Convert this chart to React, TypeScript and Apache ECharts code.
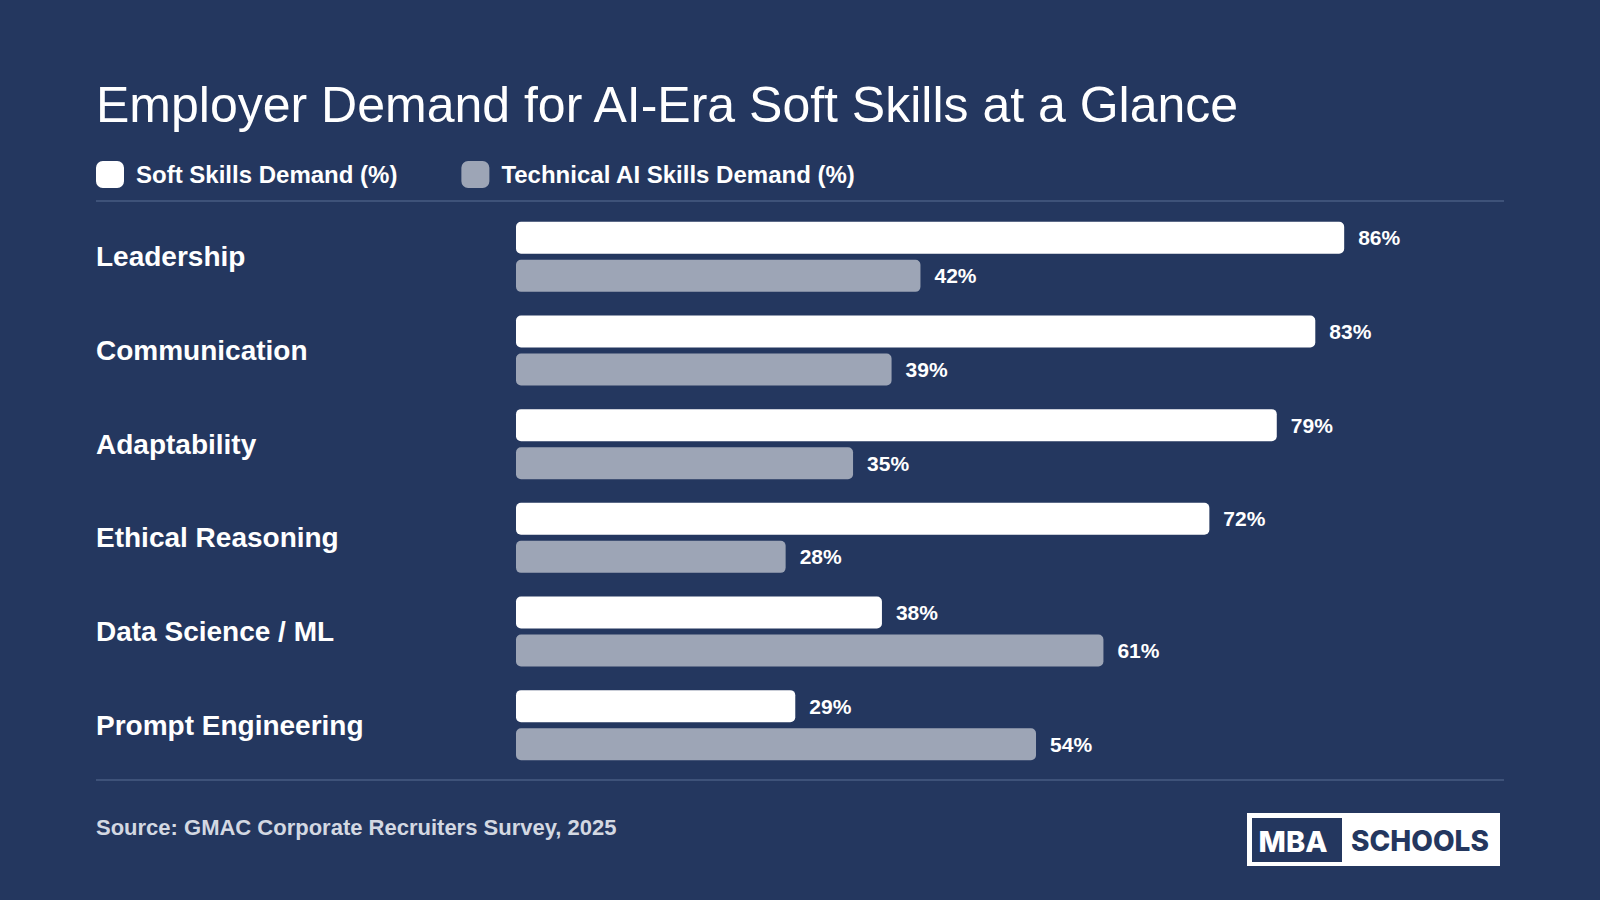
import React, { useEffect, useRef } from "react";
import * as echarts from "echarts";

const categories = ["Leadership", "Communication", "Adaptability", "Ethical Reasoning", "Data Science / ML", "Prompt Engineering"];
const softSkills = [86, 83, 79, 72, 38, 29];
const techSkills = [42, 39, 35, 28, 61, 54];
const seriesNames = ["Soft Skills Demand (%)", "Technical AI Skills Demand (%)"];
const titleText = "Employer Demand for AI-Era Soft Skills at a Glance";
const sourceText = "Source: GMAC Corporate Recruiters Survey, 2025";

const BG = "#24375f";
const GRAY = "#9da5b6";
const FONT = "'Liberation Sans', Arial, Helvetica, sans-serif";

export default function App() {
  const ref = useRef<HTMLDivElement>(null);
  useEffect(() => {
    if (!ref.current) return;
    const chart = echarts.init(ref.current, null, { renderer: "svg" });
    const label = {
      show: true,
      position: "right",
      distance: 14,
      color: "#ffffff",
      fontFamily: FONT,
      fontWeight: "bold",
      fontSize: 21,
      formatter: "{c}%",
    };
    chart.setOption({
      animation: false,
      backgroundColor: BG,
      textStyle: { fontFamily: FONT },
      legend: {
        left: 96,
        top: 161,
        padding: 0,
        itemWidth: 28,
        itemHeight: 27,
        itemGap: 64,
        icon: "roundRect",
        textStyle: { color: "#ffffff", fontSize: 24, fontWeight: "bold", fontFamily: FONT, padding: [0, 0, 0, 7] },
        data: seriesNames,
      },
      grid: { left: 516, right: 121, top: 210, height: 562 },
      xAxis: {
        type: "value",
        min: 0,
        max: 100,
        show: false,
      },
      yAxis: {
        type: "category",
        data: categories,
        inverse: true,
        axisLine: { show: false },
        axisTick: { show: false },
        splitLine: { show: false },
        axisLabel: {
          align: "left",
          margin: 420,
          color: "#ffffff",
          fontSize: 28,
          fontWeight: "bold",
          fontFamily: FONT,
        },
      },
      series: [
        {
          name: seriesNames[0],
          type: "bar",
          data: softSkills,
          barWidth: 32,
          barGap: "19%",
          itemStyle: { color: "#ffffff", borderRadius: 5 },
          label,
        },
        {
          name: seriesNames[1],
          type: "bar",
          data: techSkills,
          barWidth: 32,
          itemStyle: { color: GRAY, borderRadius: 5 },
          label,
        },
      ],
      graphic: [
        {
          type: "text",
          left: 96,
          top: 80,
          style: { text: titleText, fill: "#ffffff", fontSize: 50, fontFamily: FONT, fontWeight: "normal" },
        },
        { type: "line", shape: { x1: 96, y1: 201, x2: 1504, y2: 201 }, style: { stroke: "#3e5279", lineWidth: 2 } },
        { type: "line", shape: { x1: 96, y1: 780, x2: 1504, y2: 780 }, style: { stroke: "#3e5279", lineWidth: 2 } },
        {
          type: "text",
          x: 96,
          y: 827,
          style: { text: sourceText, fill: "#d3d8e2", fontSize: 22, fontWeight: "bold", fontFamily: FONT, textVerticalAlign: "middle" },
        },
        { type: "rect", shape: { x: 1247, y: 813, width: 253, height: 53 }, style: { fill: "#ffffff" } },
        { type: "rect", shape: { x: 1252, y: 818, width: 90, height: 44 }, style: { fill: BG } },
        {
          type: "text",
          x: 1293,
          y: 841,
          style: { text: "MBA", fill: "#ffffff", fontSize: 29, fontWeight: 800, fontFamily: "Inter, 'Open Sans', sans-serif", textAlign: "center", textVerticalAlign: "middle" },
        },
        {
          type: "text",
          x: 1420,
          y: 841,
          style: { text: "SCHOOLS", fill: BG, fontSize: 28, fontWeight: 800, fontFamily: "Inter, 'Open Sans', sans-serif", textAlign: "center", textVerticalAlign: "middle" },
        },
      ],
    });
    return () => chart.dispose();
  }, []);
  return <div ref={ref} style={{ position: "absolute", left: 0, top: 0, width: 1600, height: 900 }} />;
}
